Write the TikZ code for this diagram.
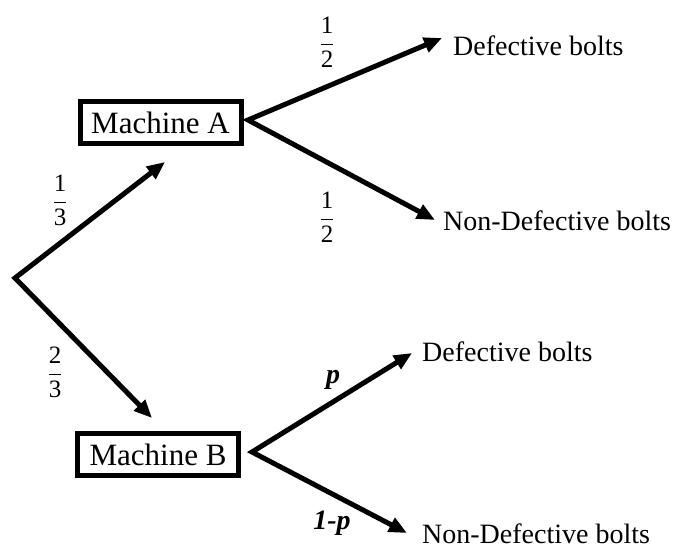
\documentclass[tikz,border=0pt]{standalone}
\usepackage{fontspec}
\setmainfont{Liberation Serif}
\usetikzlibrary{arrows.meta}

% fraction set in the text face
\newcommand{\tfrac}[2]{$\displaystyle\frac{\mbox{#1}}{\mbox{#2}}$}

\tikzset{
  tip/.tip={Triangle[length=18pt,width=15pt]},
  arrboth/.style={line width=5pt, tip-tip, line join=miter},
  machine/.style={draw, line width=5pt, inner sep=0pt, minimum width=161pt, minimum height=42pt,
                  font=\fontsize{31}{36}\selectfont},
  outcome/.style={anchor=west, inner sep=0pt, font=\fontsize{28}{33}\selectfont},
  prob/.style={inner sep=0pt, font=\fontsize{25}{30}\selectfont},
  pl/.style={inner sep=0pt, font=\fontsize{28}{33}\selectfont\bfseries\itshape}
}

\begin{document}
\begin{tikzpicture}[x=1pt,y=-1pt]
  \useasboundingbox (0,0) rectangle (676,549);

  % root of the tree
  \coordinate (root) at (15,278);

  % first-stage nodes
  \node[machine] (A) at (160.5,122.5) {Machine A};
  \node[machine] (B) at (158,454.5) {Machine B};

  % outcome labels
  \node[outcome] (AD) at (453,46) {Defective bolts};
  \node[outcome] (AN) at (443,221) {Non-Defective bolts};
  \node[outcome] (BD) at (422,352) {Defective bolts};
  \node[outcome] (BN) at (422,534) {Non-Defective bolts};

  % arrow tips
  \coordinate (tA)  at (165,162);
  \coordinate (tB)  at (152,418);
  \coordinate (tAD) at (442,38);
  \coordinate (tAN) at (435,220);
  \coordinate (tBD) at (412,353);
  \coordinate (tBN) at (407,533);

  % branch points just right of each machine
  \coordinate (vA) at (248,120);
  \coordinate (vB) at (252,452);

  % connectors
  \draw[arrboth] (tA) -- (root) -- (tB);
  \draw[arrboth] (tAD) -- (vA) -- (tAN);
  \draw[arrboth] (tBD) -- (vB) -- (tBN);

  % probabilities
  \node[prob] (p13) at (60,200) {\tfrac{1}{3}};
  \node[prob] (p23) at (55,372) {\tfrac{2}{3}};
  \node[prob] (pAD) at (327,42) {\tfrac{1}{2}};
  \node[prob] (pAN) at (327,217) {\tfrac{1}{2}};
  \node[pl] (pBD) at (333,380) {p};
  \node[pl] (pBN) at (332,523) {1-p};
\end{tikzpicture}
\end{document}
